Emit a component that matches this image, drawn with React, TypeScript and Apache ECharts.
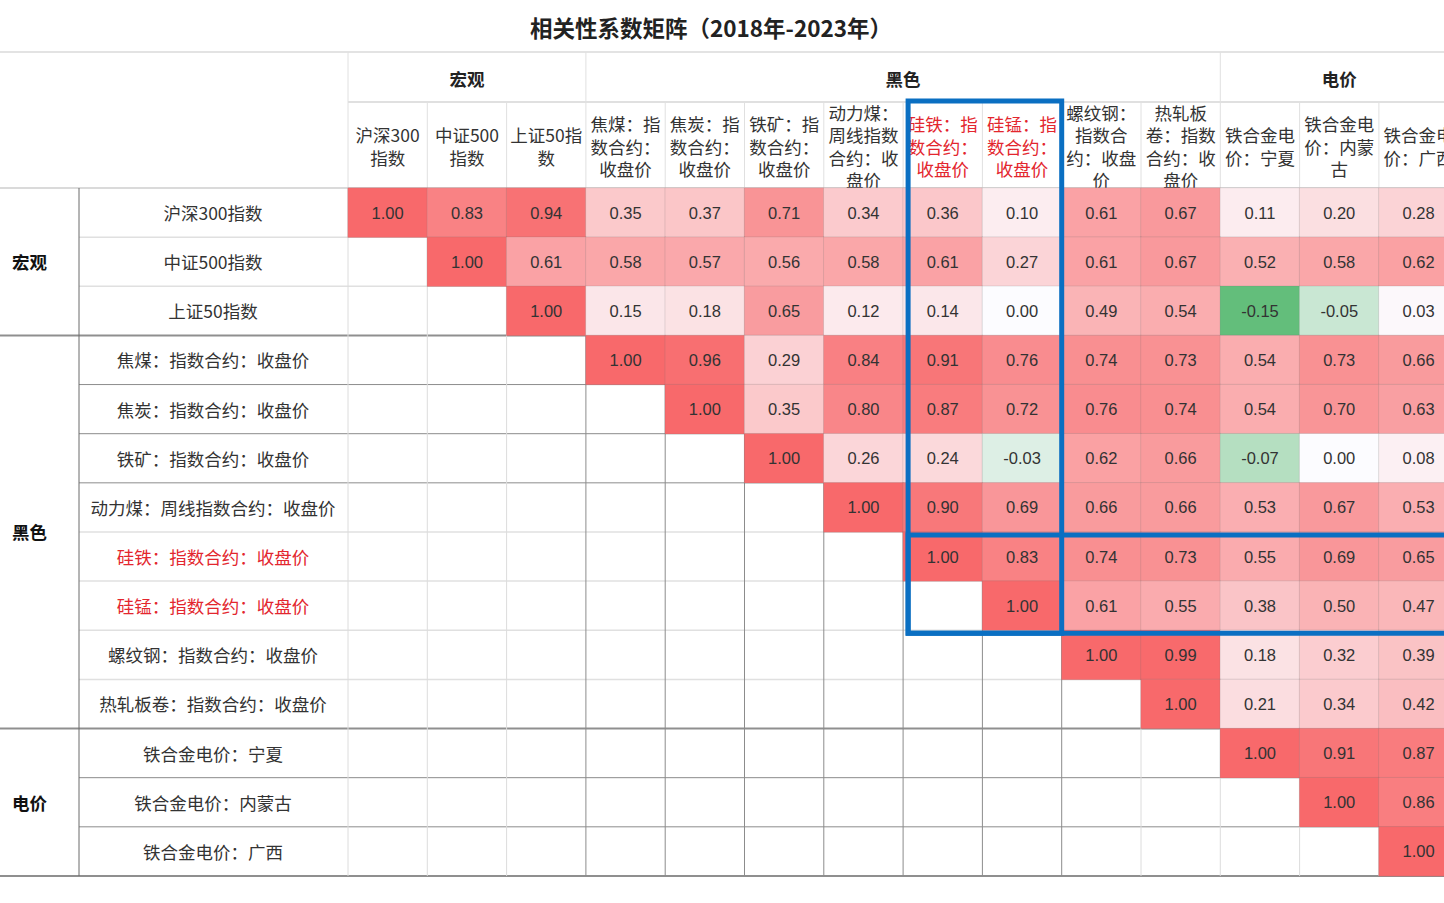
import React, { useEffect, useRef } from 'react';
import * as echarts from 'echarts';

const titleText = '相关性系数矩阵（2018年-2023年）';
const groupNames = ['宏观', '黑色', '电价'];
const groupSizes = [3, 8, 3];
const rowLabels = [
  '沪深300指数',
  '中证500指数',
  '上证50指数',
  '焦煤：指数合约：收盘价',
  '焦炭：指数合约：收盘价',
  '铁矿：指数合约：收盘价',
  '动力煤：周线指数合约：收盘价',
  '硅铁：指数合约：收盘价',
  '硅锰：指数合约：收盘价',
  '螺纹钢：指数合约：收盘价',
  '热轧板卷：指数合约：收盘价',
  '铁合金电价：宁夏',
  '铁合金电价：内蒙古',
  '铁合金电价：广西',
];
const colLabels = [
  '沪深300\n指数',
  '中证500\n指数',
  '上证50指\n数',
  '焦煤：指\n数合约：\n收盘价',
  '焦炭：指\n数合约：\n收盘价',
  '铁矿：指\n数合约：\n收盘价',
  '动力煤：\n周线指数\n合约：收\n盘价',
  '硅铁：指\n数合约：\n收盘价',
  '硅锰：指\n数合约：\n收盘价',
  '螺纹钢：\n指数合\n约：收盘\n价',
  '热轧板\n卷：指数\n合约：收\n盘价',
  '铁合金电\n价：宁夏',
  '铁合金电\n价：内蒙\n古',
  '铁合金电\n价：广西',
];
const highlighted = [7, 8];
const N = null;
const correlations: (number | null)[][] = [
  [1.0, 0.83, 0.94, 0.35, 0.37, 0.71, 0.34, 0.36, 0.1, 0.61, 0.67, 0.11, 0.2, 0.28],
  [N, 1.0, 0.61, 0.58, 0.57, 0.56, 0.58, 0.61, 0.27, 0.61, 0.67, 0.52, 0.58, 0.62],
  [N, N, 1.0, 0.15, 0.18, 0.65, 0.12, 0.14, 0.0, 0.49, 0.54, -0.15, -0.05, 0.03],
  [N, N, N, 1.0, 0.96, 0.29, 0.84, 0.91, 0.76, 0.74, 0.73, 0.54, 0.73, 0.66],
  [N, N, N, N, 1.0, 0.35, 0.8, 0.87, 0.72, 0.76, 0.74, 0.54, 0.7, 0.63],
  [N, N, N, N, N, 1.0, 0.26, 0.24, -0.03, 0.62, 0.66, -0.07, 0.0, 0.08],
  [N, N, N, N, N, N, 1.0, 0.9, 0.69, 0.66, 0.66, 0.53, 0.67, 0.53],
  [N, N, N, N, N, N, N, 1.0, 0.83, 0.74, 0.73, 0.55, 0.69, 0.65],
  [N, N, N, N, N, N, N, N, 1.0, 0.61, 0.55, 0.38, 0.5, 0.47],
  [N, N, N, N, N, N, N, N, N, 1.0, 0.99, 0.18, 0.32, 0.39],
  [N, N, N, N, N, N, N, N, N, N, 1.0, 0.21, 0.34, 0.42],
  [N, N, N, N, N, N, N, N, N, N, N, 1.0, 0.91, 0.87],
  [N, N, N, N, N, N, N, N, N, N, N, N, 1.0, 0.86],
  [N, N, N, N, N, N, N, N, N, N, N, N, N, 1.0],
];

// layout
const W = 1444;
const H = 903;
const CHART_W = 1480;
const GL = 348;
const GT = 188;
const CW = 79.3;
const RH = 49.14;
const CJK = "'Noto Sans CJK SC', 'Noto Sans', sans-serif";
const NUMFONT = "'Liberation Sans', Arial, sans-serif";
const RED = '#E3262E';
const TEXT = '#333';

function mix(a: number[], b: number[], t: number) {
  const c = a.map((v, i) => Math.round(v + (b[i] - v) * t));
  return '#' + c.map((v) => v.toString(16).padStart(2, '0')).join('');
}

function buildColors(min: number, max: number, step: number) {
  const white = [252, 252, 255];
  const red = [248, 105, 107];
  const green = [99, 190, 123];
  const out: string[] = [];
  const n = Math.round((max - min) / step);
  for (let i = 0; i <= n; i++) {
    const v = min + i * step;
    if (v < 0) out.push(mix(white, green, -v / -min));
    else out.push(mix(white, red, v / max));
  }
  return out;
}

function line(x1: number, y1: number, x2: number, y2: number, color: string, width: number, z = 0) {
  return {
    type: 'line',
    z,
    silent: true,
    shape: { x1, y1, x2, y2 },
    style: { stroke: color, lineWidth: width },
  };
}

function text(t: string, x: number, y: number, opts: any = {}) {
  return {
    type: 'text',
    z: opts.z ?? 5,
    silent: true,
    x,
    y,
    style: {
      text: t,
      fill: opts.fill ?? TEXT,
      fontSize: opts.fontSize ?? 17.5,
      fontWeight: opts.fontWeight ?? 'normal',
      fontFamily: CJK,
      align: opts.align ?? 'center',
      verticalAlign: 'middle',
      textAlign: opts.align ?? 'center',
      textVerticalAlign: 'middle',
    },
  };
}

export default function App() {
  const ref = useRef<HTMLDivElement>(null);

  useEffect(() => {
    if (!ref.current) return;
    const chart = echarts.init(ref.current, null, { renderer: 'svg' });

    const data: any[] = [];
    correlations.forEach((row, r) => {
      row.forEach((v, c) => {
        if (v !== null) data.push([c, r, v]);
      });
    });

    const nRows = rowLabels.length;
    const nCols = colLabels.length;
    const bottom = GT + nRows * RH;
    const RIGHT = CHART_W;

    const graphics: any[] = [];
    // title
    graphics.push(text(titleText, 711, 27, { fontSize: 22.5, fontWeight: 'bold', fill: '#222' }));

    // header lines
    graphics.push(line(0, 52, RIGHT, 52, '#e3e3e3', 2));
    graphics.push(line(GL, 102, RIGHT, 102, '#d6d6d6', 1.5));
    graphics.push(line(0, GT, RIGHT, GT, '#dadada', 2));

    // group labels & separators
    let acc = 0;
    groupNames.forEach((g, i) => {
      const start = acc;
      const end = acc + groupSizes[i];
      acc = end;
      const cx = GL + ((start + end) / 2) * CW;
      graphics.push(text(g, cx, 78, { fontWeight: 'bold', fill: '#222' }));
      graphics.push(line(GL + start * CW, 52, GL + start * CW, 102, '#e0e0e0', 1));
      const cy = GT + ((start + end) / 2) * RH;
      graphics.push(text(g, 12, cy, { fontWeight: 'bold', fill: '#111', align: 'left' }));
    });

    // header column separators
    for (let j = 0; j <= nCols; j++) {
      graphics.push(line(GL + j * CW, 102, GL + j * CW, GT, '#e0e0e0', 1));
    }

    // row separators
    const groupBounds: number[] = [];
    let s = 0;
    groupSizes.forEach((n) => {
      s += n;
      groupBounds.push(s);
    });
    const darkRowLines = [4, 5, 6, 12, 13];
    for (let i = 1; i <= nRows; i++) {
      const y = GT + i * RH;
      if (groupBounds.includes(i)) {
        graphics.push(line(0, y, RIGHT, y, '#8f8f8f', 2));
      } else if (darkRowLines.includes(i)) {
        graphics.push(line(79, y, RIGHT, y, '#8c8c8c', 1));
      } else {
        graphics.push(line(79, y, RIGHT, y, '#e0e0e0', 1.5));
      }
    }

    // vertical separators in body
    graphics.push(line(79, GT, 79, bottom, '#6a6a6a', 1));
    for (let j = 0; j <= nCols; j++) {
      const dark = j >= 3 && j <= 9;
      graphics.push(line(GL + j * CW, GT, GL + j * CW, bottom, dark ? '#8c8c8c' : '#dcdcdc', 1));
    }

    // blue highlight frames
    const hx0 = GL + highlighted[0] * CW + 5;
    const hx1 = GL + (highlighted[highlighted.length - 1] + 1) * CW;
    const hy0 = GT + highlighted[0] * RH + 3;
    const hy1 = GT + (highlighted[highlighted.length - 1] + 1) * RH + 3;
    graphics.push({
      type: 'rect',
      z: 100,
      silent: true,
      shape: { x: hx0, y: 101, width: hx1 - hx0, height: hy1 - 101 },
      style: { fill: 'none', stroke: '#0A6FC2', lineWidth: 5 },
    });
    graphics.push({
      type: 'rect',
      z: 100,
      silent: true,
      shape: { x: hx0, y: hy0, width: RIGHT + 20 - hx0, height: hy1 - hy0 },
      style: { fill: 'none', stroke: '#0A6FC2', lineWidth: 5 },
    });

    const labelColor = (val: any) => {
      const idxR = rowLabels.indexOf(val);
      const idxC = colLabels.indexOf(val);
      if (highlighted.includes(idxR) || highlighted.includes(idxC)) return RED;
      return TEXT;
    };

    chart.setOption({
      animation: false,
      backgroundColor: '#fff',
      grid: { left: GL, top: GT, width: CW * nCols, height: RH * nRows },
      xAxis: {
        type: 'category',
        position: 'top',
        data: colLabels,
        axisLine: { show: false },
        axisTick: { show: false },
        splitLine: { show: false },
        axisLabel: {
          interval: 0,
          margin: 42,
          fontSize: 17.5,
          lineHeight: 22.5,
          fontFamily: CJK,
          verticalAlign: 'middle',
          align: 'center',
          color: labelColor,
        },
      },
      yAxis: {
        type: 'category',
        inverse: true,
        data: rowLabels,
        axisLine: { show: false },
        axisTick: { show: false },
        splitLine: { show: false },
        axisLabel: {
          interval: 0,
          margin: GL - 213,
          align: 'center',
          fontSize: 17.5,
          fontFamily: CJK,
          color: labelColor,
        },
      },
      visualMap: {
        type: 'continuous',
        show: false,
        min: -0.15,
        max: 1,
        dimension: 2,
        inRange: { color: buildColors(-0.15, 1, 0.05) },
      },
      series: [
        {
          type: 'heatmap',
          data,
          z: 2,
          itemStyle: { borderColor: 'rgba(110,110,110,0.18)', borderWidth: 1 },
          label: {
            show: true,
            color: TEXT,
            fontSize: 16.5,
            fontFamily: NUMFONT,
            formatter: (p: any) => Number(p.value[2]).toFixed(2),
          },
          emphasis: { disabled: true },
        },
      ],
      graphic: graphics,
    });

    return () => chart.dispose();
  }, []);

  return (
    <div
      style={{ position: 'fixed', left: 0, top: 0, width: W, height: H, overflow: 'hidden', background: '#fff' }}
    >
      <div ref={ref} style={{ width: CHART_W, height: H }} />
    </div>
  );
}
